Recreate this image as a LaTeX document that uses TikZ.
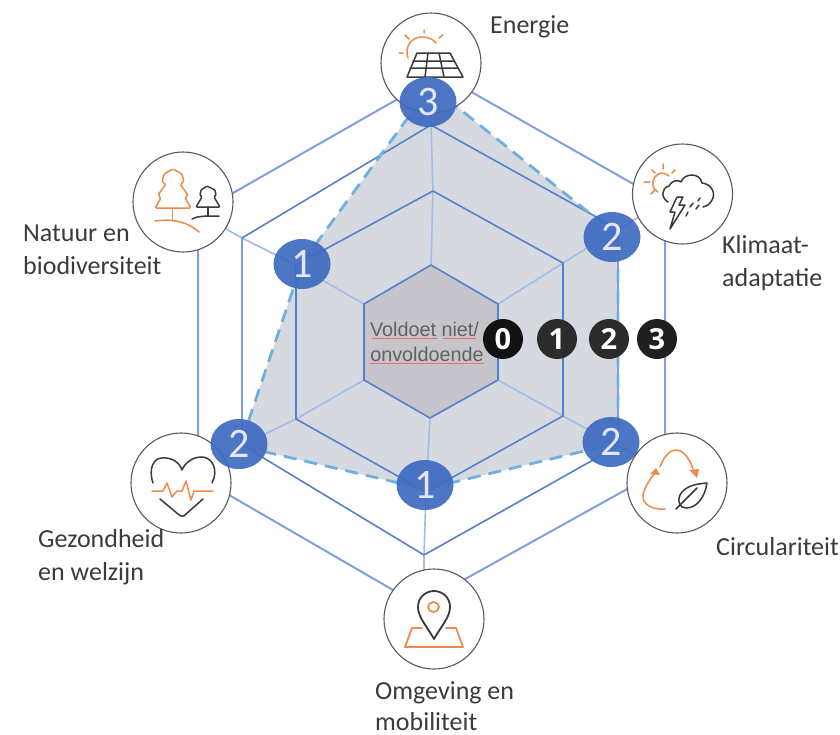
\documentclass[tikz,border=0pt]{standalone}
\usepackage{fontspec}
\setmainfont{Carlito}
\newfontfamily\legendfont{Open Sans}
\newfontfamily\centerfont{Liberation Sans}
\usetikzlibrary{arrows.meta,shapes.geometric}
\definecolor{hexline}{HTML}{5580CC}
\definecolor{hexouter}{HTML}{7F9FDF}
\definecolor{spoke}{HTML}{A3BBE6}
\definecolor{datafill}{HTML}{D6D9DF}
\definecolor{corefill}{HTML}{C5C5CB}
\definecolor{dashblue}{HTML}{6FB0DF}
\definecolor{badgeblue}{HTML}{3F6CC0}
\definecolor{iconorange}{HTML}{EE8A4B}
\definecolor{icondark}{HTML}{3A3A3A}
\definecolor{labelgray}{HTML}{3B3B3B}
\tikzset{
  hexring/.style={draw=hexline,line width=1.6pt,line join=round},
  hexrim/.style={draw=hexouter,line width=2pt,line join=round},
  spokeline/.style={draw=spoke,line width=1.6pt},
  badge/.style={ellipse,minimum width=57pt,minimum height=50pt,inner sep=0pt,fill=badgeblue,fill opacity=.93,text opacity=1,text=white!90!blue,font=\fontsize{42}{42}\selectfont},
  iconring/.style={circle,draw=black!65,line width=1.1pt,fill=white,minimum size=100pt,inner sep=0pt},
  legendbadge/.style={circle,minimum size=40pt,inner sep=0pt,text=white,font=\legendfont\bfseries\fontsize{29}{29}\selectfont},
  lab/.style={text=labelgray,font=\fontsize{26}{33}\selectfont,anchor=west,align=left,inner sep=0pt},
  icono/.style={draw=iconorange,line width=1.5pt,line cap=round,line join=round},
  icond/.style={draw=icondark,line width=1.5pt,line cap=round,line join=round},
  squiggle/.style={draw=red!60!white,line width=1pt},
  centertext/.style={text=black!62,font=\centerfont\fontsize{19.8}{20}\selectfont,inner sep=0pt},
}
\begin{document}
\begin{tikzpicture}[x=1pt,y=-1pt]
\useasboundingbox (0,0) rectangle (840,734);
% data area
\coordinate (d1) at (431,86); \coordinate (d2) at (618,236); \coordinate (d3) at (618,443);
\coordinate (d4) at (425,489); \coordinate (d5) at (240,446); \coordinate (d6) at (302,263);
\fill[datafill] (d1)--(d2)--(d3)--(d4)--(d5)--(d6)--cycle;
% core
\coordinate (c1) at (431,265); \coordinate (c2) at (498,304); \coordinate (c3) at (498,380);
\coordinate (c4) at (430,418); \coordinate (c5) at (364,380); \coordinate (c6) at (364,304);
\fill[corefill] (c1)--(c2)--(c3)--(c4)--(c5)--(c6)--cycle;
% ring 2, 3, outer
\coordinate (r1) at (433,191); \coordinate (r2) at (563,263); \coordinate (r3) at (563,416);
\coordinate (r4) at (426,492); \coordinate (r5) at (296,419); \coordinate (r6) at (296,265);
\coordinate (t1) at (431,125); \coordinate (t2) at (618,229); \coordinate (t3) at (618,446);
\coordinate (t4) at (424,555); \coordinate (t5) at (242,445); \coordinate (t6) at (242,238);
\coordinate (o1a) at (431,69); \coordinate (o1b) at (431,80); \coordinate (o2) at (665,202);
\coordinate (o3) at (665,468); \coordinate (o4a) at (431,598); \coordinate (o4b) at (431,612);
\coordinate (o5) at (198,477); \coordinate (o6) at (198,213);
% spokes
\draw[spokeline] (c1)--(r1)--(t1)--(431,90);
\draw[spokeline] (c2)--(r2)--(t2)--(o2);
\draw[spokeline] (c3)--(r3)--(t3)--(o3);
\draw[spokeline] (c4)--(r4)--(t4)--(424,600);
\draw[spokeline] (c5)--(r5)--(t5)--(o5);
\draw[spokeline] (c6)--(r6)--(t6)--(o6);
% rings
\draw[hexrim] (o1a)--(o2)--(o3)--(o4a);
\draw[hexrim] (o4b)--(o5)--(o6)--(o1b);
\draw[hexrim] (t2)--(t3);
\draw[hexrim] (t5)--(t6);
\draw[hexring] (t6)--(t1)--(t2);
\draw[hexring] (t3)--(t4)--(t5);
\draw[hexring] (r1)--(r2)--(r3)--(r4)--(r5)--(r6)--cycle;
\draw[hexring] (c1)--(c2)--(c3)--(c4)--(c5)--(c6)--cycle;
% dashed outline
\draw[dashblue,line width=2.8pt,dash pattern=on 13pt off 8pt] (d1)--(d2)--(d3)--(d4)--(d5)--(d6)--cycle;
% centre text
\node[centertext] (voldoet) at (424.5,329) {Voldoet niet/};
\node[centertext] (onvold) at (427,354) {onvoldoende};
\draw[squiggle] (372,338)--(437,338) (443,338)--(476,338) (370,363)--(484,363);
% legend
\node[legendbadge,fill=black!93] (l0) at (503,339) {0};
\node[legendbadge,fill=black!83] (l1) at (557,339) {1};
\node[legendbadge,fill=black!83] (l2) at (609,339) {2};
\node[legendbadge,fill=black!88] (l3) at (657,339) {3};
% icon rings
\node[iconring] (energie) at (431,63) {};
\node[iconring] (natuur) at (183,202) {};
\node[iconring] (klimaat) at (682.5,194) {};
\node[iconring] (gezond) at (181,483) {};
\node[iconring] (omgeving) at (434,619) {};
% energy icon
\draw[icono] (408,58) .. controls (404,46) and (412,37) .. (422,37) .. controls (428,37) and (433,39) .. (436,43);
\draw[icono] (405,35)--(409,39) (424,30)--(424,33) (443,35)--(439,38) (399,53)--(403,53);
\draw[icond] (417,53)--(450,53)--(463,77)--(407,77)--cycle;
\draw[icond] (413,61)--(454,61) (410,68)--(458,68) (428,53)--(425,77) (439,53)--(444,77);
% nature icon
\draw[icono,rounded corners=1.5pt] (173,169)--(164,174)--(162,182)--(166,184)--(158,195)--(161,198)--(155,208)--(191,208)--(185,198)--(188,195)--(180,184)--(184,182)--(182,174)--cycle;
\draw[icono] (172.5,208)--(172.5,220);
\draw[icono] (155,221) .. controls (170,219) and (185,220) .. (199,232);
\draw[icond,rounded corners=1pt] (207,186)--(201,190)--(200,195)--(202,197)--(196,207)--(220,207)--(214,197)--(216,195)--(215,190)--cycle;
\draw[icond] (208,207)--(208,216);
\draw[icond] (192,219) .. controls (197,216) and (205,216) .. (219,216);
% climate icon
\draw[icono] (669,176) .. controls (665,172) and (658,172) .. (655,177) .. controls (651,182) and (652,189) .. (658,192);
\draw[icono] (663,164)--(663,169) (652,170)--(655,173) (675,170)--(672,173) (644,182)--(650,182) (651,194)--(655,190);
\draw[icond] (668,202) .. controls (661,198) and (661,188) .. (669,186) .. controls (671,181) and (678,179) .. (681,182) .. controls (684,173) and (700,172) .. (702,183) .. controls (712,184) and (716,194) .. (712,200) .. controls (710,204) and (707,206) .. (703,207);
\draw[icond] (677,197)--(683,197)--(679,205)--(685,205)--(670,229)--(675,212)--(670,212)--cycle;
\draw[icond] (700,198)--(698,201) (693,203)--(690,207) (699,205)--(696,209) (688,212)--(686,216);
% heart icon
\draw[icond] (153,483) .. controls (148,468) and (154,458) .. (162,458) .. controls (172,457) and (180,463) .. (182,470) .. controls (185,463) and (192,457) .. (202,457) .. controls (212,457) and (219,470) .. (212,483);
\draw[icond] (160,499)--(178,514) .. controls (181,517) and (184,517) .. (186,514) -- (203,499);
\draw[icono] (152,491)--(163,491)--(167,483)--(172,497)--(177,491)--(182,491)--(186,481)--(191,500)--(194,491)--(213,491);
% pin icon
\draw[icond,line width=1.8pt] (434,639) .. controls (426,625) and (418,617) .. (418,607) .. controls (418,597) and (426,591) .. (434,591) .. controls (442,591) and (450,597) .. (450,607) .. controls (450,617) and (442,625) .. (434,639) -- cycle;
\draw[icono,line width=1.8pt] (433.5,607) ellipse [x radius=5.5pt,y radius=5pt];
\draw[icono,line width=1.8pt] (422,628)--(412,628)--(405,647)--(463,647)--(456,628)--(446,628);
% badges
\node[badge] (b3) at (428,102) {3};
\node[badge] (b2a) at (612,237) {2};
\node[badge] (b2b) at (611,442) {2};
\node[badge] (b1a) at (425,485) {1};
\node[badge] (b2c) at (239,444) {2};
\node[badge] (b1b) at (302,264) {1};
% circularity icon
\node[iconring] (circ) at (677,483) {};
\draw[icono] (665,509) .. controls (650,510) and (643,503) .. (643,497) .. controls (643,490) and (648,482) .. (654,474);
\fill[iconorange] (656,468)--(650,474)--(660,475)--cycle;
\draw[icono] (660,467) .. controls (664,456) and (670,450) .. (676,450) .. controls (684,450) and (690,460) .. (693,469);
\fill[iconorange] (697,478)--(689,470)--(699,469)--cycle;
\draw[icond] (707,483) .. controls (695,484) and (685,486) .. (680,495) .. controls (677,502) and (680,508) .. (686,508) .. controls (697,508) and (705,497) .. (707,483) -- cycle;
\draw[icond] (676,509)--(697,488);
% labels
\node[lab] (lEnergie) at (490,27) {Energie};
\node[lab] (lNatuur) at (23,250) {Natuur en\\biodiversiteit};
\node[lab] (lKlimaat) at (722,263) {Klimaat-\\adaptatie};
\node[lab] (lGezond) at (38,557) {Gezondheid\\en welzijn};
\node[lab] (lCirc) at (716,547) {Circulariteit};
\node[lab,font=\fontsize{26}{31}\selectfont] (lOmg) at (375,706) {Omgeving en\\mobiliteit};
\end{tikzpicture}
\end{document}
